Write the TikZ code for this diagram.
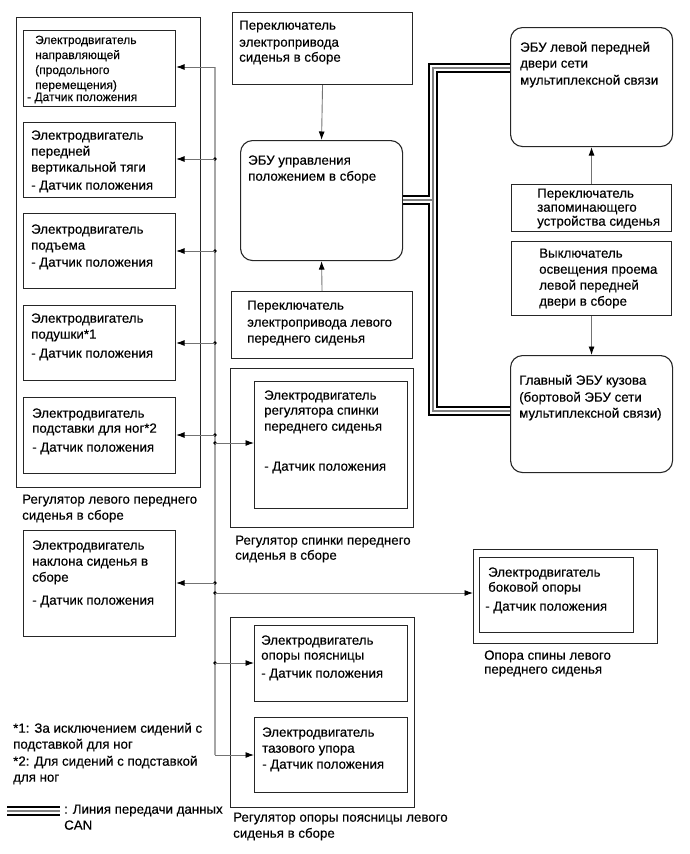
\documentclass[tikz,border=0pt]{standalone}
\usepackage{fontspec}
\setmainfont{Liberation Sans}[FakeBold=0.3]
\usetikzlibrary{arrows.meta}
\newcommand\fn{\fontsize{13.3}{16}\selectfont}
\newcommand\fs{\fontsize{12}{15}\selectfont}
\begin{document}
\begin{tikzpicture}[x=1pt,y=-1pt,
  box/.style={draw=black!85,line width=1.1pt,inner sep=0pt,anchor=north west},
  rbox/.style={box,rounded corners=12pt},
  txt/.style={inner sep=0pt,anchor=north west,align=left,font=\fn,text=black},
  stxt/.style={txt,font=\fs},
  conn/.style={draw=black!55,line width=0.9pt,-{Latex[length=8.5pt,width=6pt,color=black]}},
  busl/.style={draw=black!35,line width=1.2pt},
  dot/.style={circle,fill=black,inner sep=0pt,minimum size=3.8pt},
  canA/.style={draw=black,line width=10pt},
  canB/.style={draw=white,line width=6pt},
  canC/.style={draw=black!50,line width=2.2pt}]
\useasboundingbox (0,0) rectangle (690,854);
\newcommand\bx[6][box]{\node[#1,minimum width=#4-#2,minimum height=#5-#3] (#6) at (#2,#3) {};}
\newcommand\tx[5][txt]{\node[#1] (#2) at (#3,#4-6.7) {\strut #5};}
% left seat regulator
\bx{16}{17}{200}{487}{lout}
\bx{23}{30}{175}{106}{b1}
\bx{23}{122}{175}{197}{b2}
\bx{23}{213}{175}{288}{b3}
\bx{23}{305}{175}{380}{b4}
\bx{23}{397}{175}{473}{b5}
\bx{23}{530}{175}{636}{nak}
\bx{230}{368}{413}{527}{spo}
\bx{254}{381}{407}{508}{spi}
\bx{473}{549}{657}{643}{bko}
\bx{479}{557}{633}{632}{bki}
\bx{230}{617}{414}{807}{poo}
\bx{254}{625}{407}{701}{po1}
\bx{254}{717}{407}{792}{po2}
\bx{232}{12}{412}{84}{tsw}
\bx[rbox]{240}{140}{402}{260}{ecu}
\bx{231}{291}{412}{358}{bsw}
\bx[rbox]{510}{27}{672}{146}{door}
\bx{511}{184}{671}{231}{mem}
\bx{511}{241}{671}{315}{vyk}
\bx[rbox]{510}{355}{672}{472}{main}
% texts
\tx[stxt]{t1}{35}{40}{Электродвигатель\\направляющей\\(продольного\\перемещения)}
\tx[stxt]{t1b}{27}{97}{- Датчик положения}
\tx{t2}{31}{135}{Электродвигатель\\передней\\вертикальной тяги\\[2pt]- Датчик положения}
\tx{t3}{31}{229}{Электродвигатель\\подъема\\[1pt]- Датчик положения}
\tx{t4}{31}{318}{Электродвигатель\\подушки*1\\[3pt]- Датчик положения}
\tx{t5}{32}{413}{Электродвигатель\\[-1pt]подставки для ног*2\\[3pt]- Датчик положения}
\tx{tl}{22}{499}{Регулятор левого переднего\\сиденья в сборе}
\tx{tn}{32}{545}{Электродвигатель\\наклона сиденья в\\сборе\\[7pt]- Датчик положения}
\tx{ts}{264}{395}{Электродвигатель\\[-1pt]регулятора спинки\\переднего сиденья\\[24pt]- Датчик положения}
\tx{tsl}{235}{540}{Регулятор спинки переднего\\[-1pt]сиденья в сборе}
\tx{tb}{488}{572}{Электродвигатель\\[-1pt]боковой опоры}
\tx{tbb}{485}{606}{- Датчик положения}
\tx{tbl}{484}{655}{Опора спины левого\\[-2pt]переднего сиденья}
\tx{tp1}{261}{640}{Электродвигатель\\[-1pt]опоры поясницы\\[2pt]- Датчик положения}
\tx{tp2}{262}{732}{Электродвигатель\\тазового упора\\- Датчик положения}
\tx{tpl}{233}{817}{Регулятор опоры поясницы левого\\сиденья в сборе}
\tx{ttsw}{239}{25}{Переключатель\\[1pt]электропривода\\[-1pt]сиденья в сборе}
\tx{tecu}{248}{160}{ЭБУ управления\\положением в сборе}
\tx{tbsw}{247}{305}{Переключатель\\[1pt]электропривода левого\\переднего сиденья}
\tx{tdoor}{520}{47}{ЭБУ левой передней\\двери сети\\[1pt]мультиплексной связи}
\tx{tmem}{537}{193}{Переключатель\\[-2pt]запоминающего\\[-2pt]устройства сиденья}
\tx{tvyk}{539}{253}{Выключатель\\освещения проема\\левой передней\\двери в сборе}
\tx{tmain}{519}{380}{Главный ЭБУ кузова\\[1pt](бортовой ЭБУ сети\\мультиплексной связи)}
\tx{tf}{13}{728}{*1: За исключением сидений с\\подставкой для ног\\[1pt]*2: Для сидений с подставкой\\для ног}
\tx{tleg}{64}{809}{: Линия передачи данных\\CAN}
% bus
\coordinate (bt) at (215,67);
\coordinate (bb) at (215,755);
\draw[busl] (bt) -- (bb);
\draw[conn] (bt) -- (bt -| b1.east);
\foreach \n/\y/\t in {d2/159/b2,d3/251/b3,d4/343/b4,d5/435/b5,dn/583/nak}{
  \node[dot] (\n) at (215,\y) {};
  \draw[conn] (\n.center) -- (\n.center -| \t.east);
}
\foreach \n/\y/\t in {ds/443/spi,dp/663/po1,db/593/bko}{
  \node[dot] (\n) at (215,\y) {};
  \draw[conn] (\n.center) -- (\n.center -| \t.west);
}
\draw[conn] (bb) -- (bb -| po2.west);
% switch arrows
\draw[conn] (tsw.south) -- (ecu.north);
\draw[conn] (bsw.north) -- (ecu.south);
\draw[conn] (mem.north) -- (door.south);
\draw[conn] (vyk.south) -- (main.north);
% CAN
\coordinate (ce) at (402,200);
\coordinate (cj) at (433,200);
\coordinate (ct) at (433,68);
\coordinate (cb) at (433,411);
\coordinate (l1) at (7,811);
\coordinate (l2) at (60,811);
\foreach \s in {canA,canB,canC}{
  \draw[\s] (ce -| ecu.east) -- (cj);
  \draw[\s,line join=miter] (ct -| door.west) -- (ct) -- (cb) -- (cb -| main.west);
  \draw[\s] (l1) -- (l2);
}
\end{tikzpicture}
\end{document}
